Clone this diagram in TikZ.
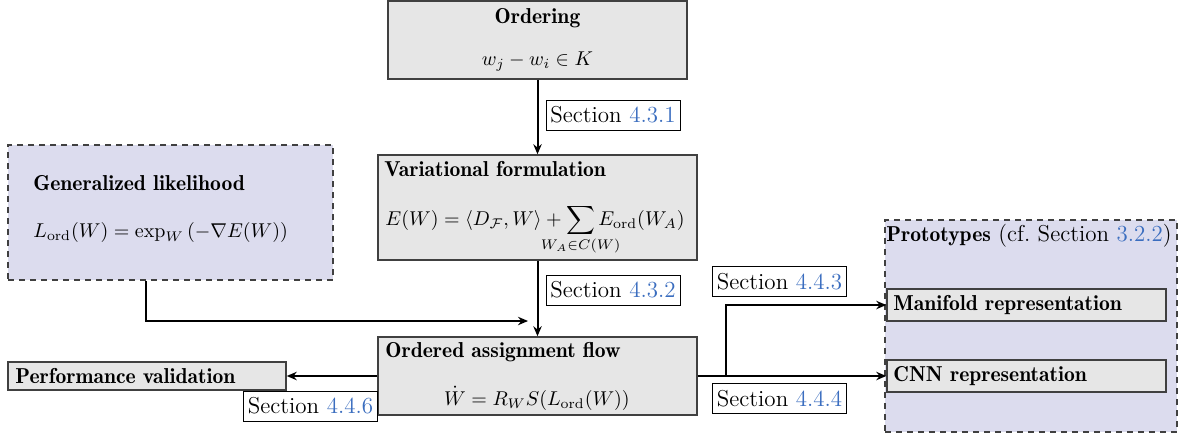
\RequirePackage{fix-cm}
\documentclass[tikz,border=0pt]{standalone}
\usepackage{amsmath}
\usepackage{fontspec}
\setmainfont{Latin Modern Roman}[BoldFont={Latin Modern Roman Demi}]
\usetikzlibrary{fit,arrows.meta}
\definecolor{boxgray}{HTML}{E6E6E6}
\definecolor{boxedge}{HTML}{404040}
\definecolor{lav}{HTML}{DCDCEE}
\definecolor{refblue}{HTML}{3A6DBF}
\newcommand{\secref}[1]{Section~\textcolor{refblue}{#1}}
% bold headings, a little smaller than the body text
\newcommand{\hd}[1]{{\fontsize{10.8}{13}\selectfont\bfseries #1}}
% zero-width centred subscript for sums
\newcommand{\limclap}[1]{\makebox[0pt]{$\scriptstyle #1$}}
\begin{document}
\begin{tikzpicture}[x=0.5pt,y=-0.5pt,
  every node/.style={font=\fontsize{11.5}{14}\selectfont},
  graybox/.style={draw=boxedge,fill=boxgray,line width=0.75pt,inner sep=0pt},
  dashbox/.style={draw=boxedge,fill=lav,dashed,dash pattern=on 3pt off 2.5pt,line width=0.75pt,inner sep=0pt},
  lbl/.style={draw=black,fill=white,line width=0.5pt,inner sep=0pt,minimum width=67pt,minimum height=15pt},
  txt/.style={inner sep=0pt,anchor=base west},
  eq/.style={inner sep=0pt,font=\fontsize{10}{12}\selectfont},
  arr/.style={line width=1pt,-{Stealth[length=5pt,width=4.2pt]}}]
\useasboundingbox (0,0) rectangle (1182,436);

% main column
\node[graybox,fit={(388,1)(687,79)}] (ord) {};
\node[inner sep=0pt,anchor=base] (ordt) at (537.5,23) {\hd{Ordering}};
\node[eq,anchor=base] (orde) at (537.5,65) {$w_j - w_i \in K$};

\node[graybox,fit={(378,155)(697,260)}] (var) {};
\node[txt] (vart) at (384,176) {\hd{Variational formulation}};
\node[eq,anchor=base west] (vare) at (385,225) {$\displaystyle E(W) = \langle D_{\mathcal{F}}, W\rangle + \sum_{\limclap{W_A\in C(W)}} E_{\mathrm{ord}}(W_A)$};

\node[graybox,fit={(378,337)(697,415)}] (flow) {};
\node[txt] (flowt) at (385,357) {\hd{Ordered assignment flow}};
\node[eq,anchor=base] (flowe) at (537,405) {$\dot W = R_W S(L_{\mathrm{ord}}(W))$};

% generalized likelihood
\node[dashbox,fit={(8,145)(333,280)}] (gen) {};
\node[txt] (gent) at (33,190) {\hd{Generalized likelihood}};
\node[eq,anchor=base west] (gene) at (33,237) {$L_{\mathrm{ord}}(W) = \exp_W\left(-\nabla E(W)\right)$};

% performance validation
\node[graybox,fit={(8,362)(286,390)}] (perf) {};
\node[txt] (perft) at (15,383) {\hd{Performance validation}};

% prototypes
\node[dashbox,fit={(885,220)(1177,432)}] (proto) {};
\node[txt] (protot) at (886,241) {\hd{Prototypes} (cf.~\secref{3.2.2})};
\node[graybox,fit={(887,289)(1166,321)}] (mani) {};
\node[txt] (manit) at (893,310) {\hd{Manifold representation}};
\node[graybox,fit={(887,360)(1166,392)}] (cnn) {};
\node[txt] (cnnt) at (893,381) {\hd{CNN representation}};

% connectors
\coordinate (genx) at (146,0);
\coordinate (join) at (528,321);
\coordinate (branch) at (726,376);
\draw[arr] (ord.south) -- (var.north);
\draw[arr] (var.south) -- (flow.north);
\draw[arr] (gen.south -| genx) |- (join);
\draw[arr] (flow.west) -- (perf.east);
\draw[arr] (flow.east) -- (cnn.west);
\draw[arr] (branch) |- (mani.west);

% section labels
\node[lbl] (l431) at (613,115) {\secref{4.3.1}};
\node[lbl] (l432) at (613,290) {\secref{4.3.2}};
\node[lbl] (l443) at (779.5,281.5) {\secref{4.4.3}};
\node[lbl] (l444) at (779.5,398.5) {\secref{4.4.4}};
\node[lbl] (l446) at (310.5,406) {\secref{4.4.6}};
\end{tikzpicture}
\end{document}
